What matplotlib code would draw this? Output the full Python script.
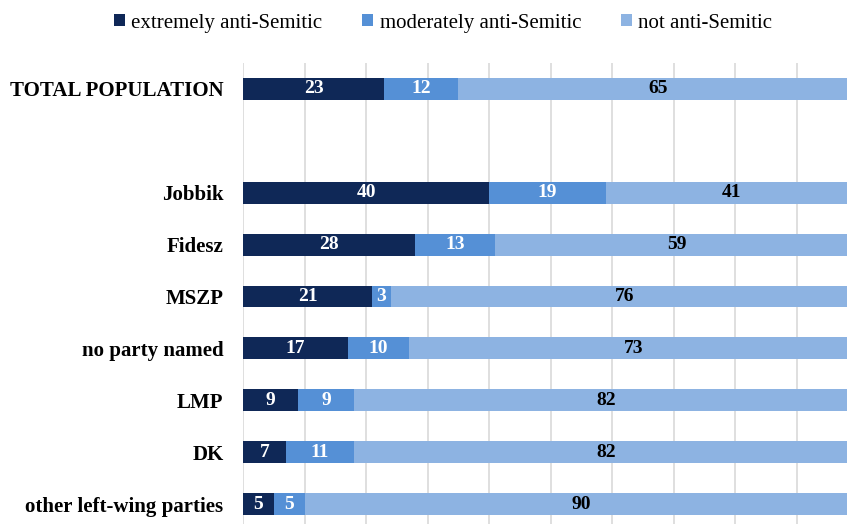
import matplotlib.pyplot as plt
import numpy as np

# survey shares (%) by party preference
categories = ["TOTAL POPULATION", "", "Jobbik", "Fidesz", "MSZP",
              "no party named", "LMP", "DK", "other left-wing parties"]
extremely = [23, None, 40, 28, 21, 17, 9, 7, 5]
moderately = [12, None, 19, 13, 3, 10, 9, 11, 5]
not_anti = [65, None, 41, 59, 76, 73, 82, 82, 90]

series_names = ["extremely anti-Semitic", "moderately anti-Semitic", "not anti-Semitic"]
colors = ["#0f2857", "#5590d6", "#8db3e2"]
text_colors = ["white", "white", "black"]

plt.rcParams['font.family'] = ['Liberation Serif', 'DejaVu Serif']

fig = plt.figure(figsize=(8.47, 5.24), dpi=100)
# axes runs a little past the right edge, like the cropped original
ax = fig.add_axes([243 / 847, -6 / 524, 615 / 847, 467 / 524])

y = np.arange(len(categories))
rows = [i for i in range(len(categories)) if extremely[i] is not None]

left = np.zeros(len(rows))
for vals, col, tcol, name in zip([extremely, moderately, not_anti], colors, text_colors, series_names):
    v = np.array([vals[i] for i in rows], dtype=float)
    ax.barh(y[rows], v, left=left, height=0.42, color=col, label=name, zorder=3)
    for yy, l, w in zip(y[rows], left, v):
        ax.text(l + w / 2, yy, f"{int(w)}", ha='center', va='center',
                color=tcol, fontsize=14, fontweight='bold', zorder=4)
    left += v

ax.set_xlim(0, 100)
ax.set_ylim(8.5, -0.5)
ax.set_xticks(np.arange(0, 101, 10))
ax.xaxis.grid(True, color="#d9d9d9", linewidth=1.2, zorder=0)
ax.tick_params(axis='x', length=0, labelbottom=False)
ax.set_yticks(y)
ax.set_yticklabels(categories, fontsize=15, fontweight='bold')
ax.tick_params(axis='y', length=0, pad=14)
for s in ax.spines.values():
    s.set_visible(False)

fig.legend(loc='upper center', bbox_to_anchor=(0.523, 1.01), ncol=3, frameon=False,
           fontsize=15, handlelength=0.55, handleheight=0.55, handletextpad=0.3,
           columnspacing=1.9)

fig.savefig("out.png", dpi=100)
